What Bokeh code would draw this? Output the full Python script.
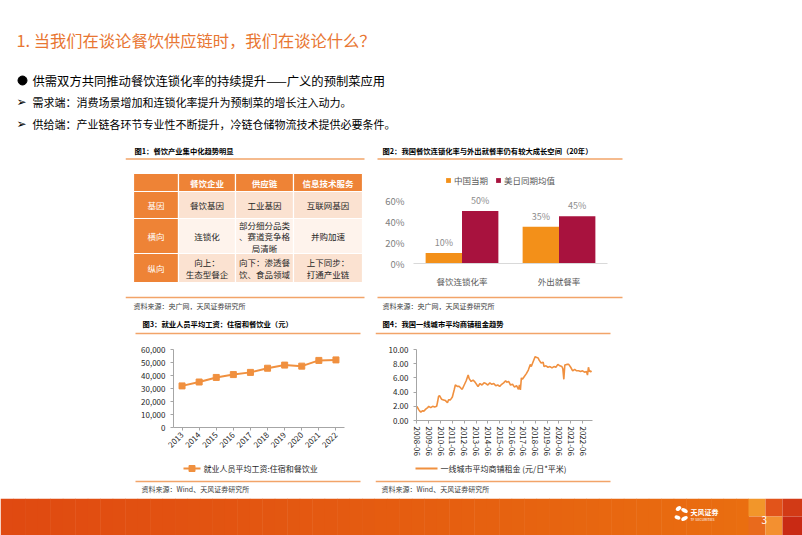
import numpy as np
import pandas as pd
from bokeh.plotting import figure
from bokeh.models import (Range1d, FactorRange, ColumnDataSource, Legend, LegendItem,
                          FixedTicker, PrintfTickFormatter, NumeralTickFormatter,
                          DatetimeTickFormatter, Spacer)
from bokeh.layouts import column, row
from bokeh.transform import dodge
from bokeh.core.properties import value
from bokeh.embed import file_html
from bokeh.resources import INLINE

FONT = "Noto Sans CJK SC"

# ---------------- data ----------------
slide_title = "1. 当我们在谈论餐饮供应链时，我们在谈论什么？"
bullet_main = "供需双方共同推动餐饮连锁化率的持续提升——广义的预制菜应用"
bullet_subs = ["需求端：消费场景增加和连锁化率提升为预制菜的增长注入动力。",
               "供给端：产业链各环节专业性不断提升，冷链仓储物流技术提供必要条件。"]

fig_titles = ["图1：餐饮产业集中化趋势明显",
              "图2：我国餐饮连锁化率与外出就餐率仍有较大成长空间（20年）",
              "图3：就业人员平均工资：住宿和餐饮业（元）",
              "图4：我国一线城市平均商铺租金趋势"]
fig_sources = ["资料来源：央广网，天风证券研究所",
               "资料来源：央广网，天风证券研究所",
               "资料来源：Wind、天风证券研究所",
               "资料来源：Wind、天风证券研究所"]

table_cols = ["餐饮企业", "供应链", "信息技术服务"]
table_rows = ["基因", "横向", "纵向"]
table_cells = [[["餐饮基因"], ["工业基因"], ["互联网基因"]],
               [["连锁化"], ["部分细分品类", "、赛道竞争格", "局清晰"], ["并购加速"]],
               [["向上：", "生态型餐企"], ["向下：渗透餐", "饮、食品领域"], ["上下同步：", "打通产业链"]]]

chain_cats = ["餐饮连锁化率", "外出就餐率"]
chain_series = ["中国当期", "美日同期均值"]
chain_china = [10, 35]
chain_usjp = [50, 45]
chain_ticks = [0, 20, 40, 60]

wage_years = ["2013", "2014", "2015", "2016", "2017", "2018", "2019", "2020", "2021", "2022"]
wage_values = [32000, 35000, 38500, 40700, 42400, 45600, 48000, 47200, 51600, 52000]
wage_label = "就业人员平均工资:住宿和餐饮业"
wage_ticks = [0, 10000, 20000, 30000, 40000, 50000, 60000]

rent_months = ["2008-06", "2008-08", "2008-09", "2008-10", "2008-12", "2009-01", "2009-03", "2009-05",
               "2009-06", "2009-08", "2009-10", "2009-12", "2010-02", "2010-03", "2010-04", "2010-05",
               "2010-07", "2010-09", "2010-11", "2011-01", "2011-02", "2011-04", "2011-06", "2011-08",
               "2011-09", "2011-11", "2012-01", "2012-03", "2012-04", "2012-06", "2012-08", "2012-10",
               "2012-11", "2013-01", "2013-03", "2013-05", "2013-07", "2013-08", "2013-10", "2013-12",
               "2014-02", "2014-04", "2014-06", "2014-08", "2014-10", "2014-12", "2015-02", "2015-04",
               "2015-06", "2015-08", "2015-10", "2015-12", "2016-01", "2016-03", "2016-05", "2016-07",
               "2016-09", "2016-11", "2017-01", "2017-02", "2017-03", "2017-04", "2017-05", "2017-07",
               "2017-09", "2017-11", "2018-01", "2018-02", "2018-04", "2018-06", "2018-07", "2018-09",
               "2018-10", "2018-12", "2019-02", "2019-03", "2019-05", "2019-07", "2019-09", "2019-11",
               "2020-01", "2020-03", "2020-05", "2020-07", "2020-09", "2020-10", "2020-11", "2020-12",
               "2021-02", "2021-04", "2021-06", "2021-08", "2021-10", "2021-12", "2022-02", "2022-04",
               "2022-06", "2022-08", "2022-10", "2022-11", "2022-12", "2023-01", "2023-02", "2023-03"]
rent_values = [2.0, 1.5, 1.3, 1.2, 1.4, 1.3, 1.6, 1.8,
               2.0, 1.8, 2.0, 1.9, 2.0, 2.6, 3.4, 3.5,
               3.0, 2.9, 2.8, 2.5, 2.9, 2.9, 3.3, 4.4,
               5.0, 4.8, 4.8, 4.5, 4.4, 5.0, 5.6, 6.4,
               5.9, 5.5, 5.7, 5.4, 5.0, 4.8, 5.2, 5.0,
               5.3, 5.2, 5.0, 5.3, 5.1, 5.2, 4.9, 5.0,
               4.8, 5.1, 5.3, 5.6, 5.4, 5.5, 5.0, 5.1,
               4.7, 4.9, 4.4, 5.0, 4.3, 6.0, 5.8, 6.2,
               6.6, 7.1, 7.9, 7.6, 8.3, 9.0, 8.9, 8.8,
               8.5, 8.1, 8.2, 7.6, 7.7, 7.5, 7.6, 7.4,
               7.6, 7.5, 7.9, 7.7, 7.6, 7.3, 5.8, 7.8,
               7.9, 7.9, 7.5, 7.0, 7.2, 7.0, 7.0, 6.9,
               7.0, 6.8, 6.9, 6.4, 7.5, 6.9, 7.0, 6.8]
rent_label = "一线城市平均商铺租金 (元/日*平米)"
rent_tick_labels = ["2008-06", "2009-06", "2010-06", "2011-06", "2012-06", "2013-06", "2014-06",
                    "2015-06", "2016-06", "2017-06", "2018-06", "2019-06", "2020-06", "2021-06", "2022-06"]
rent_ticks_y = [0, 2, 4, 6, 8, 10]

# ---------------- styles ----------------
TITLE_OR = "#E87632"
RULE_OR = "#F2A469"
TAB_OR = "#EE8336"
TAB_PEACH = "#FBE2D1"
TAB_LIGHT = "#FEF3EC"
BAR_OR = "#F39019"
BAR_RED = "#A8123E"
LINE_OR = "#F0903F"
AX = "#A6A6A6"
LBL = "#595959"


def canvas(w, h, xr, yr):
    p = figure(width=w, height=h, x_range=Range1d(*xr), y_range=Range1d(yr[1], yr[0]),
               output_backend="svg", toolbar_location=None, title=None,
               x_axis_location=None, y_axis_location=None, min_border=0,
               outline_line_color=None)
    p.grid.visible = False
    return p


def txt(p, x, y, s, size, color="#000000", bold=False, align="left", font=FONT):
    p.text(x=[x], y=[y], text=[s], text_font=value(font), text_font_size=size,
           text_color=color, text_align=align, text_baseline="middle",
           text_font_style="bold" if bold else "normal")


def style_axes(p, size="8px"):
    for ax in p.axis:
        ax.major_label_text_font = FONT
        ax.major_label_text_font_size = size
        ax.major_label_text_color = LBL
        ax.axis_line_color = AX
        ax.major_tick_line_color = AX
        ax.minor_tick_line_color = None
        ax.major_tick_in = 0
        ax.major_tick_out = 3
    p.grid.visible = False


def header(x0, x1, yr, title, ty, ly, tx, lx):
    p = canvas(x1 - x0, yr[1] - yr[0], (x0, x1), yr)
    txt(p, tx, ty, title, "7.3px", "#000000", bold=True)
    p.segment(x0=[lx[0]], y0=[ly], x1=[lx[1]], y1=[ly], line_color=RULE_OR, line_width=1.5)
    return p


def footer(x0, x1, yr, src, ty, ly, tx, lx):
    p = canvas(x1 - x0, yr[1] - yr[0], (x0, x1), yr)
    p.segment(x0=[lx[0]], y0=[ly], x1=[lx[1]], y1=[ly], line_color=RULE_OR, line_width=1.5)
    txt(p, tx, ty, src, "7px", "#404040")
    return p


# ---------------- top text ----------------
top = canvas(802, 140, (0, 802), (0, 140))
txt(top, 16, 39, slide_title, "16.3px", TITLE_OR)
top.scatter(x=[22], y=[80], marker="circle", size=9, color="#000000")
txt(top, 32, 80, bullet_main, "12.3px", "#000000")
for i, s in enumerate(bullet_subs):
    yy = 101 + i * 22
    txt(top, 16, yy, "➢", "12px", "#000000", font="DejaVu Sans")
    txt(top, 32, yy, s, "11px", "#000000")

# ---------------- figure 1: table ----------------
h1 = header(125, 375, (140, 165), fig_titles[0], 150, 158.5, 134, (125, 364))
tab = canvas(250, 125, (125, 375), (165, 290))
col_edges = [133, 178, 235, 293, 362]
row_edges = [173, 191, 218, 253, 282]
tab.quad(left=col_edges[:-1], right=col_edges[1:], top=[row_edges[0]] * 4, bottom=[row_edges[1]] * 4,
         fill_color=TAB_OR, line_color="white", line_width=1.2)
for j, c in enumerate(table_cols):
    txt(tab, (col_edges[j + 1] + col_edges[j + 2]) / 2, (row_edges[0] + row_edges[1]) / 2, c,
        "8.5px", "white", bold=True, align="center")
for i, rname in enumerate(table_rows):
    t, b = row_edges[i + 1], row_edges[i + 2]
    fill = TAB_PEACH if i != 1 else TAB_LIGHT
    tab.quad(left=[col_edges[0]], right=[col_edges[1]], top=[t], bottom=[b],
             fill_color=TAB_OR, line_color="white", line_width=1.2)
    txt(tab, (col_edges[0] + col_edges[1]) / 2, (t + b) / 2, rname, "8.5px", "white", align="center")
    tab.quad(left=col_edges[1:-1], right=col_edges[2:], top=[t] * 3, bottom=[b] * 3,
             fill_color=fill, line_color="white", line_width=1.2)
    for j, lines in enumerate(table_cells[i]):
        cx = (col_edges[j + 1] + col_edges[j + 2]) / 2
        n = len(lines)
        for k, ln in enumerate(lines):
            txt(tab, cx, (t + b) / 2 + (k - (n - 1) / 2) * 11.5, ln, "8.5px", "#262626", align="center")
f1 = footer(125, 375, (290, 310), fig_sources[0], 305, 297, 133, (125, 364))

# ---------------- figure 2: bars ----------------
h2 = header(375, 625, (140, 165), fig_titles[1], 150, 158.5, 382, (377, 622))
src2 = ColumnDataSource(dict(cat=chain_cats, china=chain_china, usjp=chain_usjp,
                             china_lbl=[f"{v}%" for v in chain_china],
                             usjp_lbl=[f"{v}%" for v in chain_usjp]))
p2 = figure(width=250, height=125, x_range=FactorRange(factors=chain_cats), y_range=Range1d(0, 86.7),
            output_backend="svg", toolbar_location=None, title=None,
            min_border_left=38, min_border_right=18, min_border_top=7, min_border_bottom=27,
            outline_line_color=None)
r1 = p2.vbar(x=dodge("cat", -0.1875, range=p2.x_range), top="china", width=0.375, source=src2,
             fill_color=BAR_OR, line_color=None)
r2 = p2.vbar(x=dodge("cat", 0.1875, range=p2.x_range), top="usjp", width=0.375, source=src2,
             fill_color=BAR_RED, line_color=None)
for off, col, lab in [(-0.1875, "china", "china_lbl"), (0.1875, "usjp", "usjp_lbl")]:
    p2.text(x=dodge("cat", off, range=p2.x_range), y=col, text=lab, source=src2,
            text_font=value(FONT), text_font_size="9px", text_color="#8C8C8C",
            text_align="center", text_baseline="bottom", y_offset=-4)
style_axes(p2, "9px")
p2.yaxis.ticker = FixedTicker(ticks=chain_ticks)
p2.yaxis.formatter = PrintfTickFormatter(format="%d%%")
p2.yaxis.axis_line_color = None
p2.yaxis.major_tick_line_color = None
p2.yaxis.major_label_text_color = "#7F7F7F"
p2.yaxis.major_label_text_font_size = "9.5px"
p2.yaxis.major_label_standoff = 6
p2.xaxis.major_tick_line_color = None
p2.xaxis.axis_line_color = "#D9D9D9"
p2.xaxis.major_label_text_font_size = "8.5px"
p2.xaxis.major_label_standoff = 8
leg2 = Legend(items=[LegendItem(label=chain_series[0], renderers=[r1]),
                     LegendItem(label=chain_series[1], renderers=[r2])],
              orientation="horizontal", location=(32, 77), padding=0, margin=0, spacing=7,
              border_line_color=None, background_fill_alpha=0,
              glyph_width=6, glyph_height=6, label_height=10, label_standoff=3,
              label_text_font=FONT, label_text_font_size="8.5px", label_text_color=LBL)
p2.add_layout(leg2)
f2 = footer(375, 625, (290, 310), fig_sources[1], 305, 297, 382, (377, 622))

# ---------------- figure 3: wage line ----------------
h3 = header(125, 375, (310, 338), fig_titles[2], 323, 333, 142, (135, 360))
src3 = ColumnDataSource(dict(year=wage_years, wage=wage_values))
p3 = figure(width=250, height=126, x_range=FactorRange(factors=wage_years), y_range=Range1d(0, 60000),
            output_backend="svg", toolbar_location=None, title=None,
            min_border_left=48, min_border_right=31, min_border_top=11, min_border_bottom=37,
            outline_line_color=None)
p3.line(x="year", y="wage", source=src3, line_color=LINE_OR, line_width=2)
p3.scatter(x="year", y="wage", source=src3, marker="square", size=6,
           fill_color=LINE_OR, line_color=LINE_OR)
style_axes(p3, "8px")
p3.yaxis.ticker = FixedTicker(ticks=wage_ticks)
p3.yaxis.formatter = NumeralTickFormatter(format="0,0")
p3.yaxis.major_label_text_color = "#262626"
p3.xaxis.major_label_orientation = np.pi / 4
p3.xaxis.major_label_text_color = "#262626"
p3.xaxis.major_label_standoff = 3
# legend + source strip below chart 3
f3 = footer(125, 375, (464, 498), fig_sources[2], 488, 481, 141, (135, 360))
f3.line(x=[183, 200], y=[468, 468], line_color=LINE_OR, line_width=2)
f3.scatter(x=[191.5], y=[468], marker="square", size=6, fill_color=LINE_OR, line_color=LINE_OR)
txt(f3, 203, 468, wage_label, "8px", "#262626")

# ---------------- figure 4: rent line ----------------
h4 = header(375, 625, (310, 338), fig_titles[3], 323, 333, 382, (375, 610))
src4 = ColumnDataSource(dict(date=pd.to_datetime(rent_months), rent=rent_values))
p4 = figure(width=250, height=120, x_axis_type="datetime",
            x_range=Range1d(pd.Timestamp("2008-05-20"), pd.Timestamp("2023-04-05")),
            y_range=Range1d(0, 10),
            output_backend="svg", toolbar_location=None, title=None,
            min_border_left=41, min_border_right=33, min_border_top=11, min_border_bottom=37,
            outline_line_color=None)
p4.line(x="date", y="rent", source=src4, line_color=LINE_OR, line_width=1.6)
style_axes(p4, "8px")
p4.yaxis.ticker = FixedTicker(ticks=rent_ticks_y)
p4.yaxis.formatter = NumeralTickFormatter(format="0.00")
p4.yaxis.major_label_text_color = "#262626"
p4.xaxis.ticker = FixedTicker(ticks=[pd.Timestamp(s + "-01").timestamp() * 1000 for s in rent_tick_labels])
p4.xaxis.formatter = DatetimeTickFormatter(years="%Y-%m", months="%Y-%m", days="%Y-%m")
p4.xaxis.major_label_orientation = "vertical"
p4.xaxis.major_label_text_color = "#262626"
p4.xaxis.major_label_standoff = 3
f4 = footer(375, 625, (464, 498), fig_sources[3], 488, 481, 381, (375, 610))
f4.line(x=[415, 437], y=[468, 468], line_color=LINE_OR, line_width=2)
txt(f4, 440, 468, rent_label, "8px", "#262626")

# ---------------- footer band ----------------
foot = canvas(802, 37, (0, 802), (498, 535))
n = 60
xs = np.linspace(0, 748, n + 1)
c0 = np.array([224, 74, 18])
c1 = np.array([234, 110, 16])
cols = ["#%02x%02x%02x" % tuple((c0 + (c1 - c0) * t).astype(int)) for t in np.linspace(0, 1, n)]
foot.quad(left=xs[:-1], right=xs[1:] + 0.5, top=[498] * n, bottom=[536] * n, fill_color=cols, line_color=None)
sq_l = [748, 765, 782, 748, 765, 782]
sq_r = [765, 782, 802, 765, 782, 802]
sq_t = [498, 498, 498, 516, 516, 516]
sq_b = [516, 516, 516, 536, 536, 536]
sq_c = ["#F2962A", "#E2541A", "#D23A16", "#E96A1C", "#F39030", "#C92A14"]
foot.quad(left=sq_l, right=sq_r, top=sq_t, bottom=sq_b, fill_color=sq_c, line_color=None)
foot.ellipse(x=[678, 684, 677, 684], y=[508, 510, 517, 518], width=[6, 7, 6, 7], height=[4, 4, 4, 4],
             angle=[0.6, -0.5, -0.4, 0.5], fill_color="white", line_color=None)
txt(foot, 690, 511, "天风证券", "7px", "white", bold=True)
txt(foot, 690, 519, "TF SECURITIES", "3.5px", "white")
txt(foot, 761, 519, "3", "10px", "white")

# ---------------- layout ----------------
L, R = 125, 177


def strip(a, b, h):
    # each plot wrapped on its own so that Bokeh does not align their frames
    return row(Spacer(width=L, height=h), column(a), column(b), Spacer(width=R, height=h))


page = column(top,
              strip(h1, h2, 25),
              strip(tab, p2, 125),
              strip(f1, f2, 20),
              strip(h3, h4, 28),
              strip(p3, p4, 126),
              strip(f3, f4, 34),
              foot)

open("out.html", "w").write(file_html(page, INLINE))
